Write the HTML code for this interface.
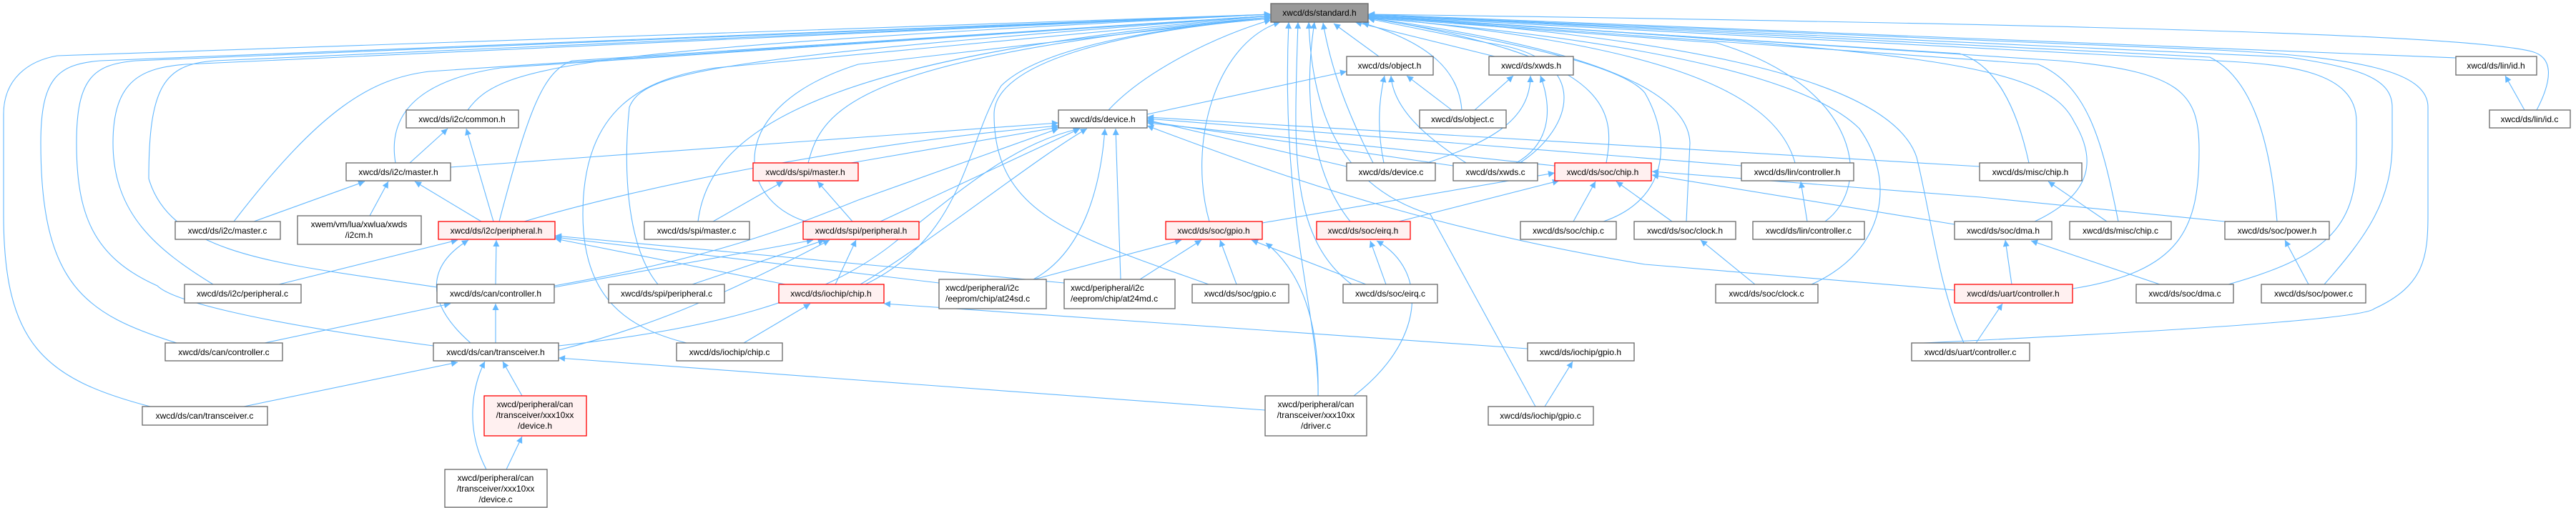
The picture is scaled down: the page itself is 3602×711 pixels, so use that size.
<!DOCTYPE html>
<html><head><meta charset="utf-8"><style>
html,body{margin:0;padding:0;background:#fff;}
svg{display:block;}
text{font-family:"Liberation Sans",sans-serif;font-size:12px;fill:#000;}
.e{fill:none;stroke:#63b8ff;stroke-width:1.1;}
.n{fill:#fff;stroke:#666;stroke-width:1.3;}
.r{fill:#fff0f0;stroke:#f00;stroke-width:1.3;}
</style></head><body>
<svg width="3602" height="711" viewBox="0 0 3602 711" xmlns="http://www.w3.org/2000/svg">
<defs><marker id="a" markerUnits="userSpaceOnUse" viewBox="0 0 10 10" refX="10" refY="5" markerWidth="12" markerHeight="9" orient="auto"><path d="M0,0 L10,5 L0,10 z" fill="#63b8ff"/></marker></defs>
<g class="e" marker-end="url(#a)">
<!-- to standard.h from left -->
<path d="M654,154 C700,90 800,70 1777,20"/>
<path d="M553,228 C540,150 600,110 700,95 L1777,22"/>
<path d="M698,310 C740,150 760,100 800,85 L1777,22"/>
<path d="M327,310 C450,150 520,110 600,100 L1777,22"/>
<path d="M298,398 C220,350 158,300 158,200 C158,110 200,95 260,90 L1777,20"/>
<path d="M611,402 C400,370 240,360 208,250 C208,120 230,90 300,85 L1777,20"/>
<path d="M247,480 C120,440 57,400 57,200 C57,110 80,90 140,85 L1777,20"/>
<path d="M606,484 C350,450 240,420 220,400 C130,360 107,300 107,200 C107,110 130,90 190,85 L1777,20"/>
<path d="M210,569 C60,530 5,480 5,300 L5,160 C5,110 40,85 80,78 L1777,20"/>
<path d="M960,480 C880,460 815,420 815,300 C815,150 900,110 1000,95 L1777,22"/>
<path d="M920,398 C880,350 870,250 880,150 C900,100 1000,80 1777,22"/>
<path d="M1130,228 C1150,150 1200,80 1777,24"/>
<path d="M976,310 C990,200 1100,80 1777,24"/>
<path d="M1127,310 C1030,280 1010,150 1200,90 L1777,24"/>
<path d="M1210,398 C1350,330 1350,200 1400,120 C1450,70 1600,40 1777,26"/>
<path d="M1690,398 C1500,330 1390,300 1390,160 C1390,80 1600,40 1777,26"/>
<path d="M1691,310 C1660,200 1700,60 1790,31"/>
<path d="M1550,154 C1600,100 1700,50 1777,28"/>
<path d="M1888,310 C1840,250 1820,150 1838,31"/>
<path d="M2147,569 L2000,300 C1870,260 1834,150 1830,31"/>
<path d="M1890,398 C1800,330 1810,200 1815,31"/>
<path d="M1843,554 C1845,450 1790,300 1802,31"/>
<!-- right side into standard.h -->
<path d="M1928,79 L1865,33"/>
<path d="M2090,79 L1895,31"/>
<path d="M2044,154 C2040,100 2000,60 1905,32"/>
<path d="M1920,228 C1880,150 1860,90 1850,32"/>
<path d="M2125,228 C2200,180 2230,80 2080,60 L1913,26"/>
<path d="M2246,228 C2260,150 2250,80 1913,25"/>
<path d="M2242,310 C2330,280 2340,200 2300,130 C2260,80 2000,40 1913,25"/>
<path d="M2358,310 L2363,200 C2360,100 2100,50 1913,25"/>
<path d="M2533,398 C2640,350 2650,250 2600,180 C2500,80 2100,40 1913,25"/>
<path d="M2510,228 C2480,120 2300,60 1913,24"/>
<path d="M2552,310 C2620,260 2600,120 2400,60 L1913,24"/>
<path d="M2837,228 C2820,150 2790,90 2740,75 L1913,23"/>
<path d="M2962,310 C2940,200 2920,120 2850,90 L1913,23"/>
<path d="M2845,310 C2930,270 2930,220 2900,170 C2860,90 2700,70 1913,23"/>
<path d="M3116,398 C3250,360 3295,320 3295,220 L3295,170 C3295,100 3200,90 3100,85 L1913,22"/>
<path d="M2898,404 C3050,380 3075,320 3075,210 C3075,130 3050,100 2880,85 L1913,22"/>
<path d="M2690,480 C2900,470 3300,450 3320,432 C3390,400 3395,360 3395,300 L3395,150 C3395,100 3300,80 3100,70 L1913,21"/>
<path d="M2746,480 C2710,400 2700,300 2680,220 C2640,100 2300,50 1913,22"/>
<path d="M3184,310 C3175,200 3150,110 3090,80 L1913,21"/>
<path d="M3250,398 C3310,330 3345,280 3345,200 L3345,150 C3345,110 3300,95 3200,80 L1913,21"/>
<path d="M3434,81 L1913,20"/>
<path d="M3547,154 C3570,110 3570,80 3540,72 C3450,50 3000,35 1913,20"/>
<!-- i2c -->
<path d="M573,228 L626,180"/>
<path d="M690,310 L652,180"/>
<path d="M673,310 L580,254"/>
<path d="M355,310 L510,254"/>
<path d="M517,302 L543,254"/>
<path d="M390,398 L640,336"/>
<path d="M693,398 L694,336"/>
<path d="M658,480 C590,420 600,370 655,336"/>
<path d="M1313,396 L776,332"/>
<path d="M1488,396 L776,330"/>
<path d="M1098,398 L776,334"/>
<!-- device.h -->
<path d="M630,234 L1480,172"/>
<path d="M733,310 C900,260 1200,200 1480,176"/>
<path d="M775,400 C1000,360 1100,320 1200,280 L1480,180"/>
<path d="M781,484 C1000,460 1150,420 1250,340 C1350,260 1420,200 1510,180"/>
<path d="M1190,228 L1480,178"/>
<path d="M1231,310 L1510,180"/>
<path d="M1203,398 C1300,340 1450,220 1520,180"/>
<path d="M1445,391 C1520,350 1540,250 1545,180"/>
<path d="M1567,391 L1560,180"/>
<path d="M1883,233 L1604,168"/>
<path d="M2032,232 L1604,170"/>
<path d="M2174,232 L1604,172"/>
<path d="M2435,232 L1604,166"/>
<path d="M2768,233 L1604,164"/>
<path d="M2733,406 L2300,370 C2000,320 1800,250 1604,176"/>
<!-- object/xwds -->
<path d="M1604,160 L1883,100"/>
<path d="M2030,154 L1967,106"/>
<path d="M2062,154 L2116,106"/>
<path d="M1935,228 C1925,180 1928,140 1936,106"/>
<path d="M1995,228 C2080,200 2140,170 2140,106"/>
<path d="M2050,228 C1990,190 1948,150 1945,106"/>
<path d="M2120,228 C2170,200 2170,150 2154,106"/>
<!-- can -->
<path d="M370,480 L630,425"/>
<path d="M693,480 L693,425"/>
<path d="M341,569 L640,507"/>
<path d="M730,554 L703,506"/>
<path d="M680,657 C650,600 660,540 678,506"/>
<path d="M708,657 L730,611"/>
<path d="M1769,574 L781,501"/>
<!-- spi -->
<path d="M997,310 L1095,254"/>
<path d="M1192,310 L1143,254"/>
<path d="M968,398 L1153,336"/>
<path d="M775,402 L1137,336"/>
<path d="M1168,398 L1197,336"/>
<path d="M781,490 C900,460 1000,420 1160,336"/>
<!-- iochip -->
<path d="M1040,480 L1133,425"/>
<path d="M2136,488 L1236,425"/>
<path d="M2160,569 L2199,506"/>
<!-- soc -->
<path d="M1594,391 L1680,336"/>
<path d="M1446,391 L1652,336"/>
<path d="M1729,398 L1706,336"/>
<path d="M1765,312 L2174,242"/>
<path d="M1956,310 L2180,253"/>
<path d="M1843,554 C1845,450 1820,380 1770,340"/>
<path d="M1893,554 C1990,480 2000,380 1925,337"/>
<path d="M1938,398 L1916,337"/>
<path d="M1910,398 L1750,336"/>
<path d="M2200,310 L2231,254"/>
<path d="M2338,310 L2260,254"/>
<path d="M2454,398 L2378,336"/>
<path d="M2733,314 L2310,245"/>
<path d="M3111,310 L2770,276 L2310,240"/>
<path d="M2527,310 L2518,254"/>
<path d="M2946,310 L2864,254"/>
<path d="M3020,398 L2840,337"/>
<path d="M2813,398 L2804,336"/>
<path d="M2763,480 L2800,425"/>
<path d="M3228,398 L3195,336"/>
<path d="M3530,154 L3503,106"/>
</g>
<!-- nodes -->
<g>
<rect x="1777" y="5" width="136" height="26" fill="#999" stroke="#666" stroke-width="1.3"/><text x="1845" y="22" text-anchor="middle">xwcd/ds/standard.h</text>
<rect class="n" x="568" y="154" width="157" height="25"/><text x="646" y="171" text-anchor="middle">xwcd/ds/i2c/common.h</text>
<rect class="n" x="484" y="228" width="146" height="25"/><text x="557" y="245" text-anchor="middle">xwcd/ds/i2c/master.h</text>
<rect class="n" x="245" y="310" width="147" height="25"/><text x="318" y="327" text-anchor="middle">xwcd/ds/i2c/master.c</text>
<rect class="n" x="416" y="302" width="173" height="40"/><text x="502" y="318" text-anchor="middle">xwem/vm/lua/xwlua/xwds</text><text x="502" y="333" text-anchor="middle">/i2cm.h</text>
<rect class="r" x="613" y="310" width="163" height="25"/><text x="694" y="327" text-anchor="middle">xwcd/ds/i2c/peripheral.h</text>
<rect class="n" x="258" y="398" width="163" height="26"/><text x="339" y="415" text-anchor="middle">xwcd/ds/i2c/peripheral.c</text>
<rect class="n" x="611" y="398" width="164" height="26"/><text x="693" y="415" text-anchor="middle">xwcd/ds/can/controller.h</text>
<rect class="n" x="231" y="480" width="164" height="25"/><text x="313" y="497" text-anchor="middle">xwcd/ds/can/controller.c</text>
<rect class="n" x="606" y="480" width="175" height="25"/><text x="693" y="497" text-anchor="middle">xwcd/ds/can/transceiver.h</text>
<rect class="r" x="677" y="554" width="143" height="56"/><text x="748" y="570" text-anchor="middle">xwcd/peripheral/can</text><text x="748" y="585" text-anchor="middle">/transceiver/xxx10xx</text><text x="748" y="600" text-anchor="middle">/device.h</text>
<rect class="n" x="622" y="657" width="143" height="53"/><text x="693" y="673" text-anchor="middle">xwcd/peripheral/can</text><text x="693" y="688" text-anchor="middle">/transceiver/xxx10xx</text><text x="693" y="703" text-anchor="middle">/device.c</text>
<rect class="n" x="199" y="569" width="175" height="26"/><text x="286" y="586" text-anchor="middle">xwcd/ds/can/transceiver.c</text>
<rect class="n" x="851" y="398" width="162" height="26"/><text x="932" y="415" text-anchor="middle">xwcd/ds/spi/peripheral.c</text>
<rect class="n" x="1480" y="154" width="124" height="25"/><text x="1542" y="171" text-anchor="middle">xwcd/ds/device.h</text>
<rect class="r" x="1053" y="228" width="147" height="25"/><text x="1126" y="245" text-anchor="middle">xwcd/ds/spi/master.h</text>
<rect class="n" x="901" y="310" width="147" height="25"/><text x="974" y="327" text-anchor="middle">xwcd/ds/spi/master.c</text>
<rect class="r" x="1123" y="310" width="162" height="25"/><text x="1204" y="327" text-anchor="middle">xwcd/ds/spi/peripheral.h</text>
<rect class="r" x="1089" y="398" width="147" height="26"/><text x="1162" y="415" text-anchor="middle">xwcd/ds/iochip/chip.h</text>
<rect class="n" x="1313" y="391" width="150" height="41"/><text x="1322" y="407">xwcd/peripheral/i2c</text><text x="1322" y="422">/eeprom/chip/at24sd.c</text>
<rect class="n" x="1488" y="391" width="155" height="41"/><text x="1497" y="407">xwcd/peripheral/i2c</text><text x="1497" y="422">/eeprom/chip/at24md.c</text>
<rect class="n" x="1667" y="398" width="135" height="26"/><text x="1734" y="415" text-anchor="middle">xwcd/ds/soc/gpio.c</text>
<rect class="r" x="1630" y="310" width="135" height="25"/><text x="1697" y="327" text-anchor="middle">xwcd/ds/soc/gpio.h</text>
<rect class="n" x="946" y="480" width="148" height="25"/><text x="1020" y="497" text-anchor="middle">xwcd/ds/iochip/chip.c</text>
<rect class="n" x="1769" y="554" width="142" height="56"/><text x="1840" y="570" text-anchor="middle">xwcd/peripheral/can</text><text x="1840" y="585" text-anchor="middle">/transceiver/xxx10xx</text><text x="1840" y="600" text-anchor="middle">/driver.c</text>
<rect class="n" x="1883" y="79" width="121" height="26"/><text x="1943" y="96" text-anchor="middle">xwcd/ds/object.h</text>
<rect class="n" x="2082" y="79" width="118" height="26"/><text x="2141" y="96" text-anchor="middle">xwcd/ds/xwds.h</text>
<rect class="n" x="1985" y="154" width="121" height="25"/><text x="2045" y="171" text-anchor="middle">xwcd/ds/object.c</text>
<rect class="n" x="1883" y="228" width="124" height="25"/><text x="1945" y="245" text-anchor="middle">xwcd/ds/device.c</text>
<rect class="n" x="2032" y="228" width="118" height="25"/><text x="2091" y="245" text-anchor="middle">xwcd/ds/xwds.c</text>
<rect class="r" x="2174" y="228" width="135" height="25"/><text x="2241" y="245" text-anchor="middle">xwcd/ds/soc/chip.h</text>
<rect class="n" x="2435" y="228" width="157" height="25"/><text x="2513" y="245" text-anchor="middle">xwcd/ds/lin/controller.h</text>
<rect class="r" x="1841" y="310" width="131" height="25"/><text x="1906" y="327" text-anchor="middle">xwcd/ds/soc/eirq.h</text>
<rect class="n" x="2126" y="310" width="134" height="25"/><text x="2193" y="327" text-anchor="middle">xwcd/ds/soc/chip.c</text>
<rect class="n" x="2285" y="310" width="142" height="25"/><text x="2356" y="327" text-anchor="middle">xwcd/ds/soc/clock.h</text>
<rect class="n" x="2451" y="310" width="156" height="25"/><text x="2529" y="327" text-anchor="middle">xwcd/ds/lin/controller.c</text>
<rect class="n" x="1878" y="398" width="132" height="26"/><text x="1944" y="415" text-anchor="middle">xwcd/ds/soc/eirq.c</text>
<rect class="n" x="2399" y="398" width="143" height="26"/><text x="2470" y="415" text-anchor="middle">xwcd/ds/soc/clock.c</text>
<rect class="n" x="2136" y="480" width="149" height="25"/><text x="2210" y="497" text-anchor="middle">xwcd/ds/iochip/gpio.h</text>
<rect class="n" x="2081" y="569" width="147" height="26"/><text x="2154" y="586" text-anchor="middle">xwcd/ds/iochip/gpio.c</text>
<rect class="n" x="2673" y="480" width="165" height="25"/><text x="2755" y="497" text-anchor="middle">xwcd/ds/uart/controller.c</text>
<rect class="n" x="3434" y="79" width="113" height="26"/><text x="3490" y="96" text-anchor="middle">xwcd/ds/lin/id.h</text>
<rect class="n" x="3481" y="154" width="113" height="25"/><text x="3537" y="171" text-anchor="middle">xwcd/ds/lin/id.c</text>
<rect class="n" x="2768" y="228" width="143" height="25"/><text x="2839" y="245" text-anchor="middle">xwcd/ds/misc/chip.h</text>
<rect class="n" x="2733" y="310" width="136" height="25"/><text x="2801" y="327" text-anchor="middle">xwcd/ds/soc/dma.h</text>
<rect class="n" x="2894" y="310" width="142" height="25"/><text x="2965" y="327" text-anchor="middle">xwcd/ds/misc/chip.c</text>
<rect class="n" x="3111" y="310" width="146" height="25"/><text x="3184" y="327" text-anchor="middle">xwcd/ds/soc/power.h</text>
<rect class="r" x="2733" y="398" width="165" height="26"/><text x="2815" y="415" text-anchor="middle">xwcd/ds/uart/controller.h</text>
<rect class="n" x="2987" y="398" width="136" height="26"/><text x="3055" y="415" text-anchor="middle">xwcd/ds/soc/dma.c</text>
<rect class="n" x="3162" y="398" width="146" height="26"/><text x="3235" y="415" text-anchor="middle">xwcd/ds/soc/power.c</text>
</g>
</svg>
</body></html>
